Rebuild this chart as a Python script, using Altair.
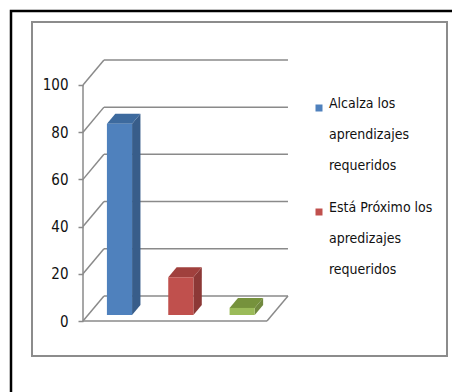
import altair as alt
import pandas as pd

# ---- data ----
categories = [
    "Alcalza los aprendizajes requeridos",
    "Está Próximo los apredizajes requeridos",
    "No alcanza los aprendizajes requeridos",
]
values = [81, 16, 3]
front_colors = ["#4F81BD", "#C0504D", "#9BBB59"]
side_colors = ["#385D8A", "#8C3836", "#71893F"]
top_colors = ["#3D6A9E", "#A0403D", "#76923C"]
y_ticks = [0, 20, 40, 60, 80, 100]
legend_lines = [
    ["Alcalza los", "aprendizajes", "requeridos"],
    ["Está Próximo los", "apredizajes", "requeridos"],
]

# ---- geometry / style constants ----
FONT = "DejaVu Sans Condensed, sans-serif"
Y_MAX = 114.8
X_MAX = 3.375
DX, DY = 0.342, 10.6          # depth of the 3-D floor (x units, value units)
SLOT_OFF, BAR_W = 0.39, 0.41  # bar front-face offset and width inside a slot
Z0, ZD = 0.24, 0.40           # bar front depth and bar depth (fraction of DX/DY)
GRID = "#8A8A8A"

n = len(categories)
xs = alt.Scale(domain=[0, X_MAX], nice=False, zero=False)
ys = alt.Scale(domain=[0, Y_MAX], nice=False, zero=False)
y_axis = alt.Axis(values=y_ticks, title=None, domain=False, grid=False,
                  tickColor=GRID, tickSize=5, tickWidth=1.5, zindex=2,
                  labelFont=FONT, labelFontSize=15, labelColor="#111111",
                  labelPadding=10)

# front faces
base = Z0 * DY
front = pd.DataFrame({
    "cat": categories,
    "x0": [i + SLOT_OFF for i in range(n)],
    "x1": [i + SLOT_OFF + BAR_W for i in range(n)],
    "y0": [base] * n,
    "y1": [base + v for v in values],
})

# side and top faces (parallelograms)
side_rows = []
top_rows = []
for i, v in enumerate(values):
    fx0 = i + SLOT_OFF
    fx1 = fx0 + BAR_W
    top = base + v
    for k in (0, 1):
        side_rows.append({"bar": i, "x": fx1 + k * ZD * DX,
                          "ylo": base + k * ZD * DY, "yhi": top + k * ZD * DY,
                          "c": side_colors[i]})
        top_rows.append({"bar": i, "y": top + k * ZD * DY,
                         "xlo": fx0 + k * ZD * DX, "xhi": fx1 + k * ZD * DX,
                         "c": top_colors[i]})
side = pd.DataFrame(side_rows)
topf = pd.DataFrame(top_rows)

# walls / grid lines
line_rows = []
for v in y_ticks:
    line_rows.append({"x": 0, "y": v, "x2": DX, "y2": v + DY})
    line_rows.append({"x": DX, "y": v + DY, "x2": n + DX, "y2": v + DY})
line_rows.append({"x": 0, "y": 0, "x2": n, "y2": 0})
line_rows.append({"x": n, "y": 0, "x2": n + DX, "y2": DY})
line_rows.append({"x": 0, "y": 0, "x2": 0, "y2": max(y_ticks)})
lines = pd.DataFrame(line_rows)

one = pd.DataFrame({"a": [0]})
outer = alt.Chart(one).mark_rect(fill="white", stroke="black", strokeWidth=2.5).encode(
    x=alt.value(-72), x2=alt.value(400), y=alt.value(-39), y2=alt.value(400))
inner = alt.Chart(one).mark_rect(fill="white", stroke="#8C8C8C", strokeWidth=2).encode(
    x=alt.value(-51), x2=alt.value(364), y=alt.value(-28), y2=alt.value(306))

grid = alt.Chart(lines).mark_rule(color=GRID, strokeWidth=1.5).encode(
    x=alt.X("x:Q", scale=xs, axis=None), x2="x2:Q",
    y=alt.Y("y:Q", scale=ys, axis=y_axis), y2="y2:Q")

label_expr = " : ".join(
    f"datum.label == '{categories[i]}' ? {legend_lines[i]!r}" for i in range(len(legend_lines))
) + " : datum.label"

fronts = alt.Chart(front).mark_rect().encode(
    x=alt.X("x0:Q", scale=xs, axis=None), x2="x1:Q",
    y=alt.Y("y0:Q", scale=ys, axis=y_axis), y2="y1:Q",
    color=alt.Color("cat:N", scale=alt.Scale(domain=categories, range=front_colors),
                    legend=alt.Legend(values=categories[:2], orient="none",
                                      legendX=229, legendY=51, title=None,
                                      symbolType="square", symbolSize=49,
                                      symbolStrokeWidth=0, labelFont=FONT,
                                      labelFontSize=14, labelLimit=0,
                                      labelColor="#111111", labelBaseline="alphabetic",
                                      labelOffset=3, rowPadding=28, padding=0,
                                      labelExpr=label_expr, zindex=2)))

sides = alt.Chart(side).mark_area().encode(
    x=alt.X("x:Q", scale=xs, axis=None),
    y=alt.Y("yhi:Q", scale=ys, axis=y_axis), y2="ylo:Q",
    detail="bar:N", color=alt.Color("c:N", scale=None))

tops = alt.Chart(topf).mark_area(orient="horizontal").encode(
    y=alt.Y("y:Q", scale=ys, axis=y_axis),
    x=alt.X("xlo:Q", scale=xs, axis=None), x2="xhi:Q",
    detail="bar:N", color=alt.Color("c:N", scale=None))

chart = alt.layer(outer, inner, grid, sides, tops, fronts).properties(
    width=207, height=271,
    autosize=alt.AutoSizeParams(type="none"),
    padding={"left": 83, "top": 50, "right": 162, "bottom": 71},
    background="white",
).resolve_scale(color="independent").configure(
    style={"guide-label": {"lineHeight": 31}},
    view=alt.ViewConfig(stroke="transparent"),
)

chart.save("out.html", embed_options={"renderer": "svg", "actions": False})
